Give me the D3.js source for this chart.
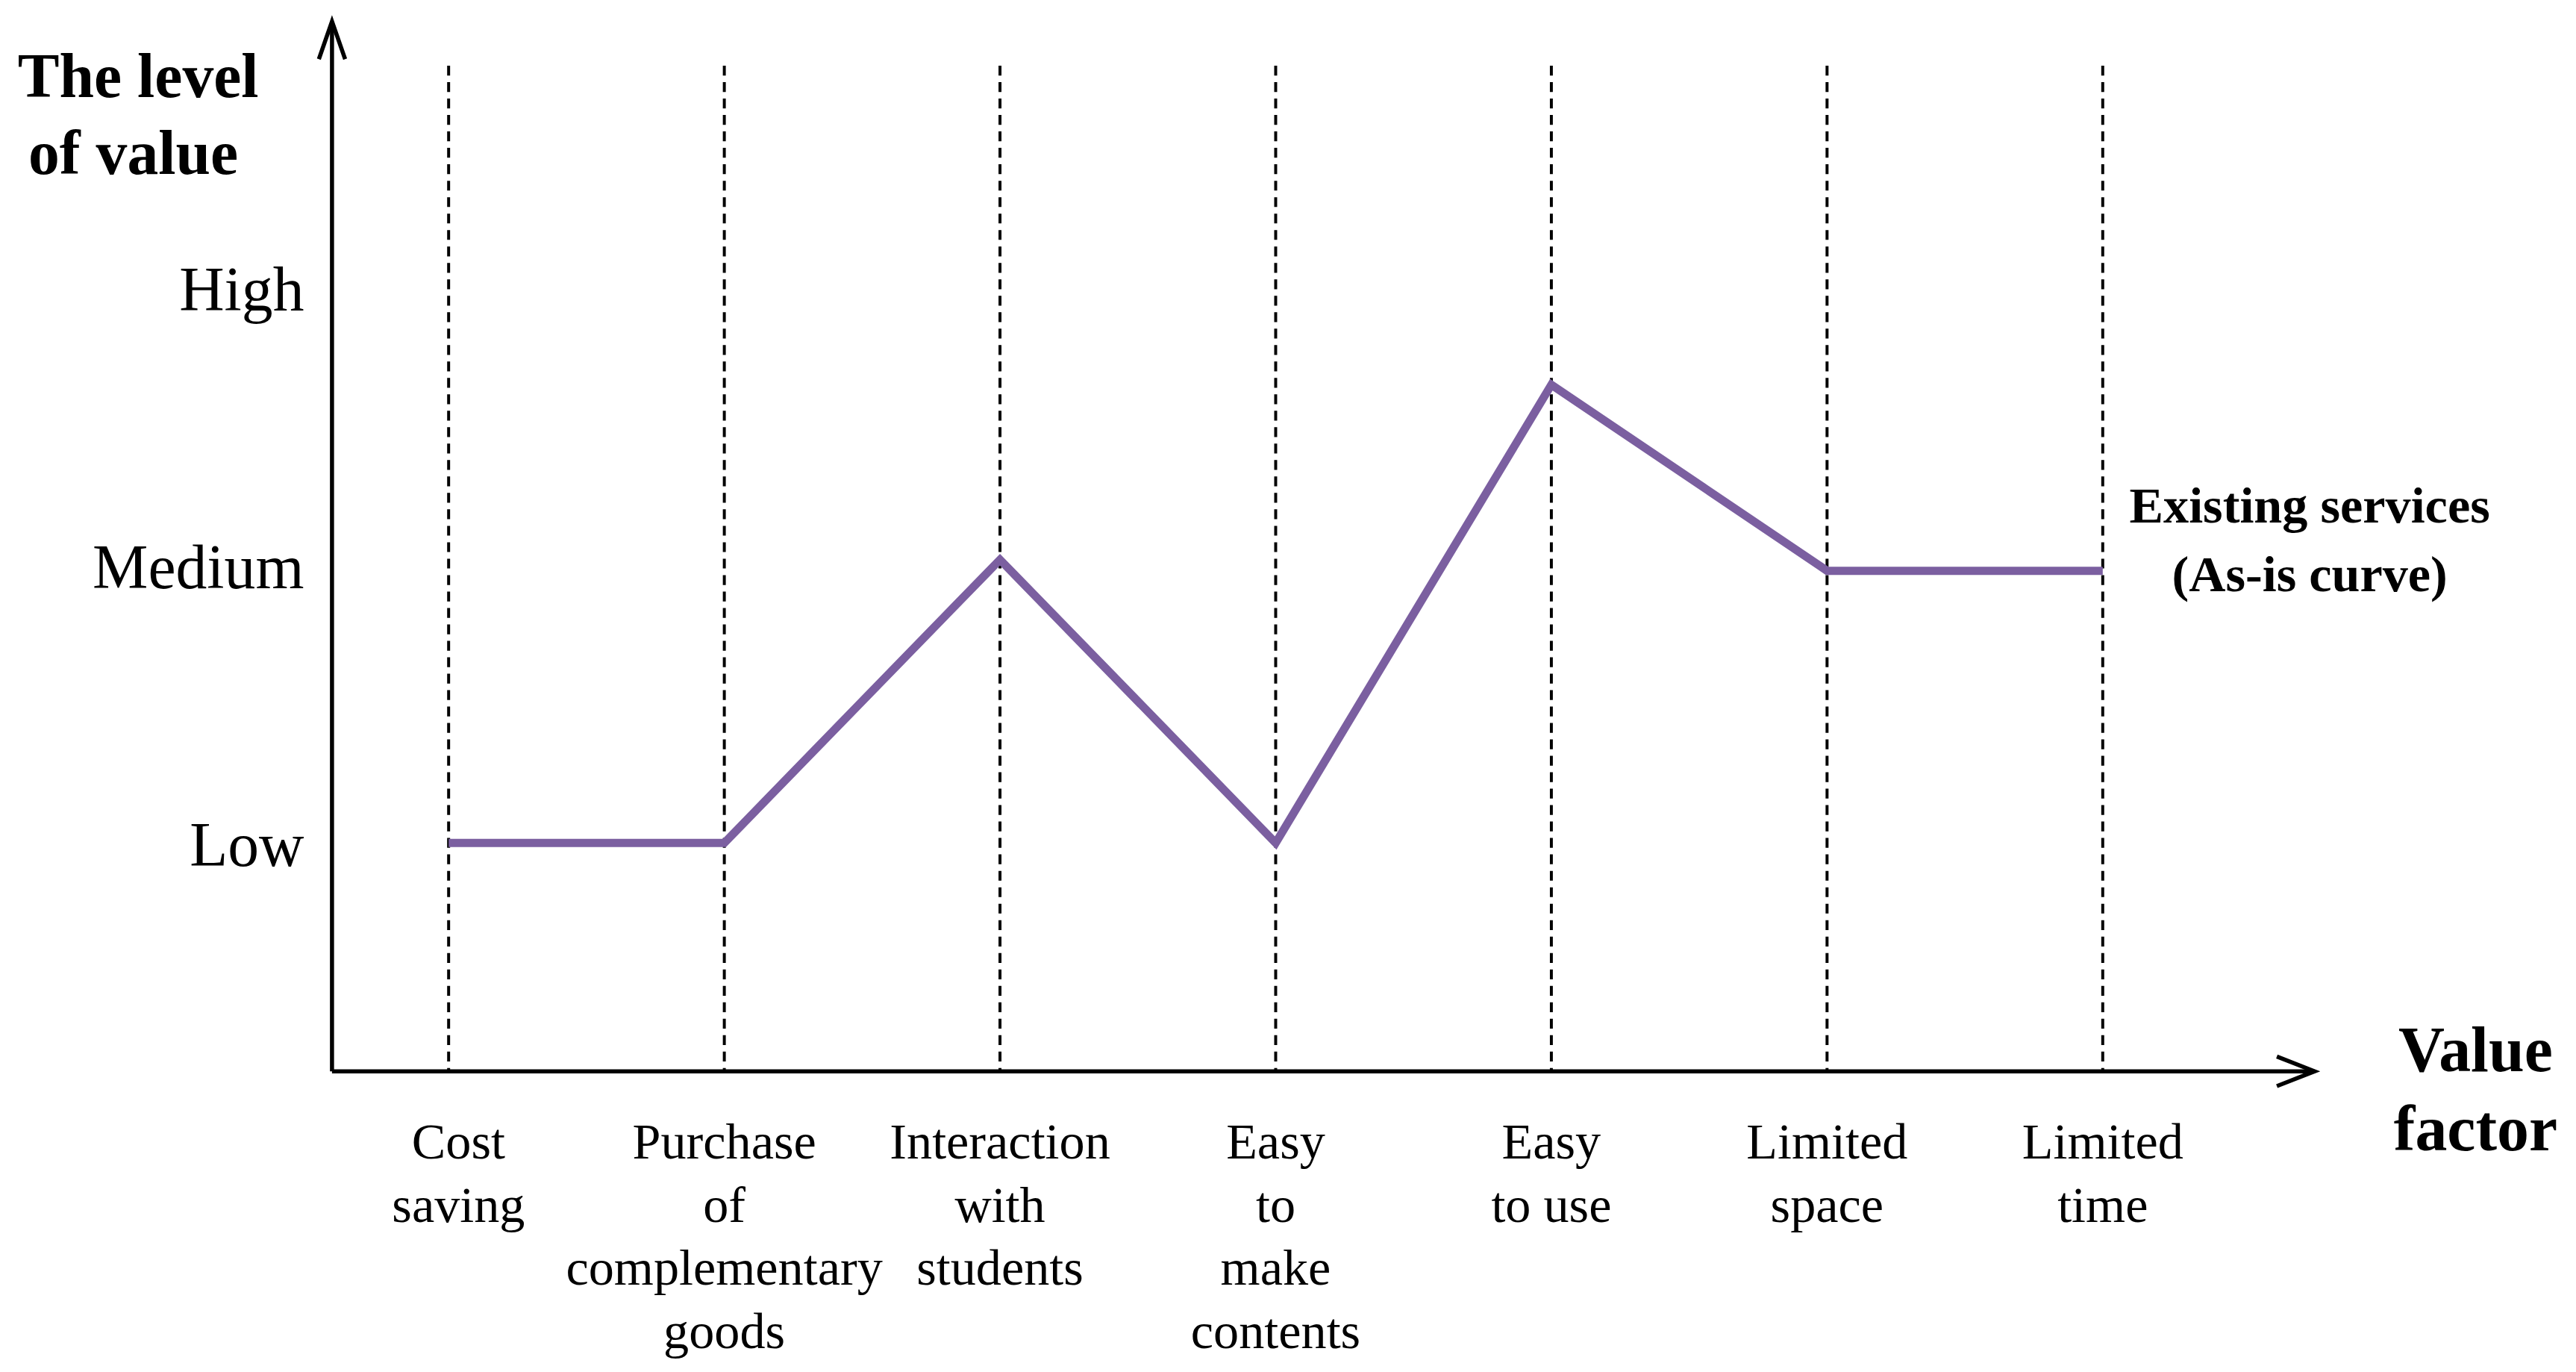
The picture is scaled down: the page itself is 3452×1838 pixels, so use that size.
<!DOCTYPE html>
<html>
<head>
<meta charset="utf-8">
<script src="https://cdn.jsdelivr.net/npm/d3@7"></script>
<style>
  body { margin: 0; background: #fff; }
  text { font-family: 'Liberation Serif', 'Times New Roman', serif; fill: #000; }
</style>
</head>
<body>
<script>
const factors = [
  ['Cost', 'saving'],
  ['Purchase', 'of', 'complementary', 'goods'],
  ['Interaction', 'with', 'students'],
  ['Easy', 'to', 'make', 'contents'],
  ['Easy', 'to use'],
  ['Limited', 'space'],
  ['Limited', 'time'],
];
// 1 = Low, 2 = Medium, 3 = High
const asIsValues = [1, 1, 2.02, 1, 2.65, 1.98, 1.98];
const levelLabels = ['Low', 'Medium', 'High'];
const levelValues = [1, 2, 3];

const W = 1568, H = 835;
const svg = d3.select('body').append('svg')
  .attr('width', 3452).attr('height', 1838)
  .attr('viewBox', `0 0 ${W} ${H}`);

const originX = 202, originY = 652;

const x = d3.scalePoint()
  .domain(d3.range(factors.length))
  .range([273, 1280]);

const y = d3.scaleLinear()
  .domain([1, 3])
  .range([513, 175]);

// dashed guides
svg.append('g').selectAll('line')
  .data(d3.range(factors.length))
  .join('line')
  .attr('x1', (d) => x(d)).attr('x2', (d) => x(d))
  .attr('y1', 40).attr('y2', originY)
  .attr('stroke', '#000').attr('stroke-width', 1.8)
  .attr('stroke-dasharray', '6,4');

// axes
svg.append('line').attr('x1', originX).attr('y1', originY).attr('x2', originX).attr('y2', 14)
  .attr('stroke', '#000').attr('stroke-width', 2.5);
svg.append('path').attr('d', `M${originX - 8},36 L${originX},13 L${originX + 8},36`)
  .attr('fill', 'none').attr('stroke', '#000').attr('stroke-width', 2.5);
svg.append('line').attr('x1', originX).attr('y1', originY).attr('x2', 1408).attr('y2', originY)
  .attr('stroke', '#000').attr('stroke-width', 2.5);
svg.append('path').attr('d', `M1386,${originY - 9} L1409,${originY} L1386,${originY + 9}`)
  .attr('fill', 'none').attr('stroke', '#000').attr('stroke-width', 2.5);

// level labels
svg.append('g').selectAll('text')
  .data(levelValues)
  .join('text')
  .attr('x', 185).attr('y', (d) => y(d) + 14)
  .attr('text-anchor', 'end').attr('font-size', 38)
  .text((d, i) => levelLabels[i]);

// factor labels
factors.forEach((lines, i) => {
  const t = svg.append('text')
    .attr('text-anchor', 'middle').attr('font-size', 31);
  lines.forEach((s, j) => {
    t.append('tspan').attr('x', x(i) + (i === 0 ? 6 : 0)).attr('y', 705 + j * 38.5).text(s);
  });
});

// as-is curve
svg.append('path')
  .datum(asIsValues)
  .attr('d', d3.line().x((d, i) => x(i)).y((d) => y(d)))
  .attr('fill', 'none').attr('stroke', '#7b5fa0').attr('stroke-width', 5)
  .attr('stroke-linejoin', 'miter');

// axis titles
const yt = svg.append('text').attr('font-size', 38).attr('font-weight', 'bold').attr('text-anchor', 'middle');
yt.append('tspan').attr('x', 84).attr('y', 59).text('The level');
yt.append('tspan').attr('x', 81).attr('y', 106).text('of value');

const xt = svg.append('text').attr('font-size', 39).attr('font-weight', 'bold').attr('text-anchor', 'middle');
xt.append('tspan').attr('x', 1507).attr('y', 652).text('Value');
xt.append('tspan').attr('x', 1507).attr('y', 700).text('factor');

const st = svg.append('text').attr('font-size', 31).attr('font-weight', 'bold').attr('text-anchor', 'middle');
st.append('tspan').attr('x', 1406).attr('y', 318).text('Existing services');
st.append('tspan').attr('x', 1406).attr('y', 360).text('(As-is curve)');
</script>
</body>
</html>
